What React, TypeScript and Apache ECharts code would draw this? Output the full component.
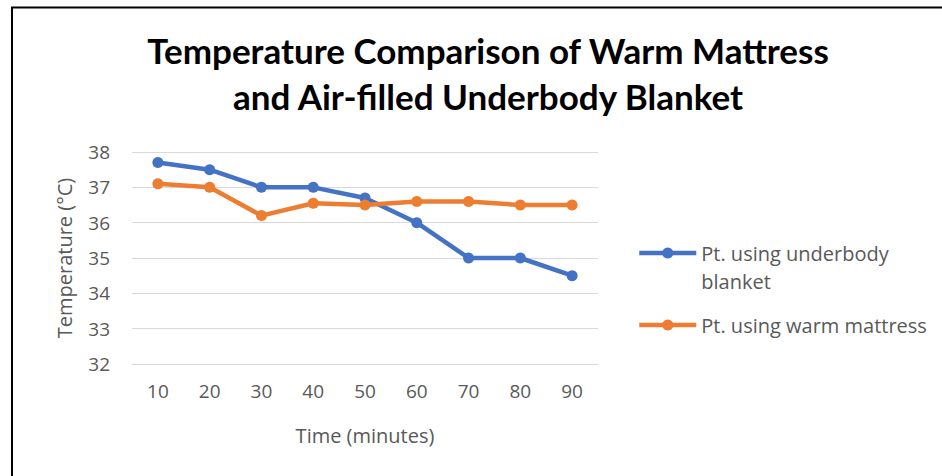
import React, { useEffect, useRef } from "react";
import * as echarts from "echarts";

const categories = ["10", "20", "30", "40", "50", "60", "70", "80", "90"];
const underbodyBlanket = [37.7, 37.5, 37.0, 37.0, 36.7, 36.0, 35.0, 35.0, 34.5];
const warmMattress = [37.1, 37.0, 36.2, 36.55, 36.5, 36.6, 36.6, 36.5, 36.5];
const seriesNames = ["Pt. using underbody blanket", "Pt. using warm mattress"];
const titleText = "Temperature Comparison of Warm Mattress\nand Air-filled Underbody Blanket";
const xName = "Time (minutes)";
const yName = "Temperature (°C)";

const FONT = "Open Sans";
const TITLE_FONT = "Lato";
const GRAY = "#595959";

export default function App() {
  const ref = useRef<HTMLDivElement>(null);
  useEffect(() => {
    if (!ref.current) return;
    const chart = echarts.init(ref.current, undefined, { renderer: "svg" });
    chart.setOption({
      animation: false,
      backgroundColor: "#ffffff",
      textStyle: { fontFamily: FONT },
      graphic: [
        { type: "line", shape: { x1: 12, y1: 7, x2: 12, y2: 476 }, style: { stroke: "#000", lineWidth: 2 } },
        { type: "line", shape: { x1: 11, y1: 7.5, x2: 942, y2: 7.5 }, style: { stroke: "#000", lineWidth: 2 } },
        {
          type: "text",
          x: 488,
          y: 27,
          style: {
            text: titleText,
            font: `bold 35px ${TITLE_FONT}`,
            fill: "#000",
            align: "center",
            verticalAlign: "top",
            lineHeight: 46,
          },
        },
      ],
      grid: { left: 132, right: 344, top: 152, bottom: 112 },
      xAxis: {
        type: "category",
        data: categories,
        boundaryGap: true,
        axisLine: { show: true, lineStyle: { color: "#D9D9D9", width: 1 } },
        axisTick: { show: false },
        axisLabel: { color: GRAY, fontSize: 19, margin: 17, fontFamily: FONT },
        name: xName,
        nameLocation: "middle",
        nameGap: 61,
        nameTextStyle: { color: GRAY, fontSize: 20, fontFamily: FONT },
      },
      yAxis: {
        type: "value",
        min: 32,
        max: 38,
        interval: 1,
        axisLine: { show: false },
        axisTick: { show: false },
        splitLine: { lineStyle: { color: "#D9D9D9", width: 1 } },
        axisLabel: { color: GRAY, fontSize: 19, margin: 22, fontFamily: FONT },
        name: yName,
        nameLocation: "middle",
        nameGap: 58,
        nameTextStyle: { color: GRAY, fontSize: 20, fontFamily: FONT },
      },
      legend: [
        {
          data: [seriesNames[0]],
          left: 637,
          top: 211,
          padding: 0,
          itemWidth: 57,
          itemHeight: 14,
          itemGap: 5,
          lineStyle: { width: 4.5 },
          formatter: () => " \nPt. using underbody\nblanket",
          textStyle: { color: GRAY, fontSize: 20, lineHeight: 28, fontFamily: FONT },
        },
        {
          data: [seriesNames[1]],
          left: 637,
          top: 311,
          padding: 0,
          itemWidth: 57,
          itemHeight: 14,
          lineStyle: { width: 4.5 },
          textStyle: { color: GRAY, fontSize: 20, lineHeight: 28, fontFamily: FONT },
        },
      ],
      series: [
        {
          name: seriesNames[0],
          type: "line",
          data: underbodyBlanket,
          symbol: "circle",
          symbolSize: 11,
          color: "#4472C4",
          lineStyle: { width: 4.5, color: "#4472C4" },
          itemStyle: { color: "#4472C4" },
        },
        {
          name: seriesNames[1],
          type: "line",
          data: warmMattress,
          symbol: "circle",
          symbolSize: 11,
          color: "#ED7D31",
          lineStyle: { width: 4.5, color: "#ED7D31" },
          itemStyle: { color: "#ED7D31" },
        },
      ],
    });
    return () => chart.dispose();
  }, []);
  return (
    <div
      ref={ref}
      style={{ position: "absolute", left: 0, top: 0, width: 942, height: 476, background: "#fff" }}
    />
  );
}
